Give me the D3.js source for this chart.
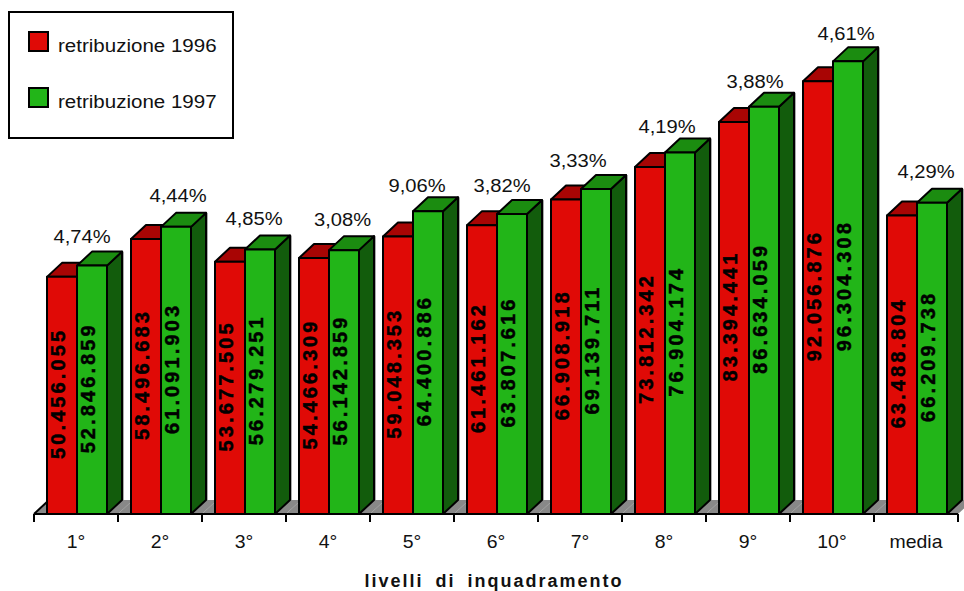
<!DOCTYPE html>
<html>
<head>
<meta charset="utf-8">
<style>
body { margin: 0; background: #fff; }
text { font-family: "Liberation Sans", Arial, sans-serif; fill: #111; }
text.val { fill: #000; stroke: #000; stroke-width: 0.45; }
</style>
<script src="https://cdn.jsdelivr.net/npm/d3@7"></script>
</head>
<body>
<svg width="964" height="591"></svg>
<script>
// values
var categories = ["1°", "2°", "3°", "4°", "5°", "6°", "7°", "8°", "9°", "10°", "media"];
var values1996 = [50456055, 58496683, 53677505, 54466309, 59048353, 61461162, 66908918, 73812342, 83394441, 92056876, 63488804];
var values1997 = [52846859, 61091903, 56279251, 56142859, 64400886, 63807616, 69139711, 76904174, 86634059, 96304308, 66209738];
var increases = ["4,74%", "4,44%", "4,85%", "3,08%", "9,06%", "3,82%", "3,33%", "4,19%", "3,88%", "4,61%", "4,29%"];
var seriesNames = ["retribuzione 1996", "retribuzione 1997"];

var svg = d3.select("svg");

var baseY = 514,
    depthX = 15,
    depthY = 14,
    barW = 30,
    barOffset = 13;

var x = d3.scaleBand()
    .domain(categories)
    .range([34, 958]);

var y = d3.scaleLinear()
    .domain([0, 100000000])
    .range([baseY, baseY - 470]);

var fmt = d3.formatLocale({ decimal: ",", thousands: ".", grouping: [3], currency: ["", ""] }).format(",d");

var colors = {
    red: { front: "#e00a06", top: "#a80504", side: "#7a0503" },
    green: { front: "#22b518", top: "#1b8c10", side: "#125c0c" }
};

// gray floor
svg.append("g").selectAll("path")
    .data(categories)
    .enter().append("path")
    .attr("d", function(d) {
        var l = x(d), r = l + x.step();
        return "M" + l + "," + baseY + "L" + (l + depthX) + "," + (baseY - depthY) +
            "L" + (r + depthX) + "," + (baseY - depthY) + "L" + r + "," + baseY + "Z";
    })
    .attr("fill", "#888");

// black left edge of the floor
svg.append("line")
    .attr("x1", x.range()[0]).attr("y1", baseY)
    .attr("x2", x.range()[0] + depthX).attr("y2", baseY - depthY)
    .attr("stroke", "#000")
    .attr("stroke-width", 2);

// one 3d bar
function bar3d(g, left, val, c) {
    var top = y(val), right = left + barW;
    g.append("line")
        .attr("x1", right + depthX + 1.5).attr("x2", right + depthX + 1.5)
        .attr("y1", top - depthY).attr("y2", baseY - depthY)
        .attr("stroke", "#aaa")
        .attr("stroke-width", 1);
    g.append("path")
        .attr("d", "M" + right + "," + top + "l" + depthX + "," + (-depthY) + "V" + (baseY - depthY) + "L" + right + "," + baseY + "Z")
        .attr("fill", c.side);
    g.append("path")
        .attr("d", "M" + left + "," + top + "l" + depthX + "," + (-depthY) + "h" + barW + "l" + (-depthX) + "," + depthY + "Z")
        .attr("fill", c.top);
    g.append("rect")
        .attr("x", left)
        .attr("y", top)
        .attr("width", barW)
        .attr("height", baseY - top)
        .attr("fill", c.front);
}

var groups = svg.append("g").selectAll("g")
    .data(categories)
    .enter().append("g")
    .attr("stroke", "#000")
    .attr("stroke-width", 2)
    .attr("stroke-linejoin", "round");

groups.each(function(d, i) {
    var g = d3.select(this);
    bar3d(g, x(d) + barOffset, values1996[i], colors.red);
    bar3d(g, x(d) + barOffset + barW, values1997[i], colors.green);
});

// vertical value labels, centered on the bars
function valueLabels(vals, off) {
    svg.append("g").selectAll("text")
        .data(vals)
        .enter().append("text")
        .attr("class", "val")
        .attr("transform", function(d, i) {
            return "translate(" + (x(categories[i]) + off) + "," + ((y(d) + baseY) / 2 - 2) + ") rotate(-90)";
        })
        .attr("text-anchor", "middle")
        .attr("font-size", 20)
        .attr("font-weight", "bold")
        .attr("letter-spacing", 3.1)
        .text(function(d) { return fmt(d); });
}
valueLabels(values1996, barOffset + 18);
valueLabels(values1997, barOffset + barW + 17.5);

// percent labels were placed by hand in the original, so they get a small nudge each
var nudgeX = [0, 12, 4, 8.5, -1, 0, -8, -3, 1, 8, 4];
var nudgeY = [0, -2, -1, -1, 4, 1, 1, 3, 4, 2, -2];
svg.append("g").selectAll("text")
    .data(increases)
    .enter().append("text")
    .attr("transform", function(d, i) {
        return "translate(" + (x(categories[i]) + 48 + nudgeX[i]) + "," + (y(values1997[i]) - depthY - 9 + nudgeY[i]) + ") scale(1.09,1)";
    })
    .attr("text-anchor", "middle")
    .attr("font-size", 18.5)
    .text(function(d) { return d; });

// axis, ticks sit on the band edges
var axis = svg.append("g")
    .attr("transform", "translate(0," + baseY + ")")
    .call(d3.axisBottom(x).tickSize(0));
axis.select(".domain").remove();
axis.selectAll("text")
    .attr("font-size", 18)
    .attr("dy", 0)
    .attr("y", 34)
    .attr("transform", "scale(1.08,1)");

axis.append("path")
    .attr("d", "M34,0H958")
    .attr("stroke", "#000")
    .attr("stroke-width", 2);

axis.selectAll("line.edge")
    .data(categories.concat(["end"]))
    .enter().append("line")
    .attr("class", "edge")
    .attr("x1", function(d, i) { return x.range()[0] + i * x.step(); })
    .attr("x2", function(d, i) { return x.range()[0] + i * x.step(); })
    .attr("y1", 0)
    .attr("y2", 8)
    .attr("stroke", "#000")
    .attr("stroke-width", 2);

svg.append("text")
    .attr("x", 494)
    .attr("y", 587)
    .attr("text-anchor", "middle")
    .attr("font-size", 18)
    .attr("font-weight", "bold")
    .attr("letter-spacing", 2)
    .attr("word-spacing", 5)
    .text("livelli di inquadramento");

// legend
var legend = svg.append("g");
legend.append("rect")
    .attr("x", 9).attr("y", 12)
    .attr("width", 224).attr("height", 126)
    .attr("fill", "#fff")
    .attr("stroke", "#000")
    .attr("stroke-width", 2);

var legendColors = [colors.red.front, colors.green.front];
var legendY = d3.scalePoint().domain(seriesNames).range([42, 98]);

legend.selectAll("rect.key")
    .data(seriesNames)
    .enter().append("rect")
    .attr("class", "key")
    .attr("x", 29)
    .attr("y", function(d) { return legendY(d) - 10; })
    .attr("width", 19)
    .attr("height", 19)
    .attr("fill", function(d, i) { return legendColors[i]; })
    .attr("stroke", "#000")
    .attr("stroke-width", 2);

legend.selectAll("text")
    .data(seriesNames)
    .enter().append("text")
    .attr("transform", function(d) { return "translate(58," + (legendY(d) + 10) + ") scale(1.11,1)"; })
    .attr("font-size", 18.5)
    .text(function(d) { return d; });
</script>
</body>
</html>
